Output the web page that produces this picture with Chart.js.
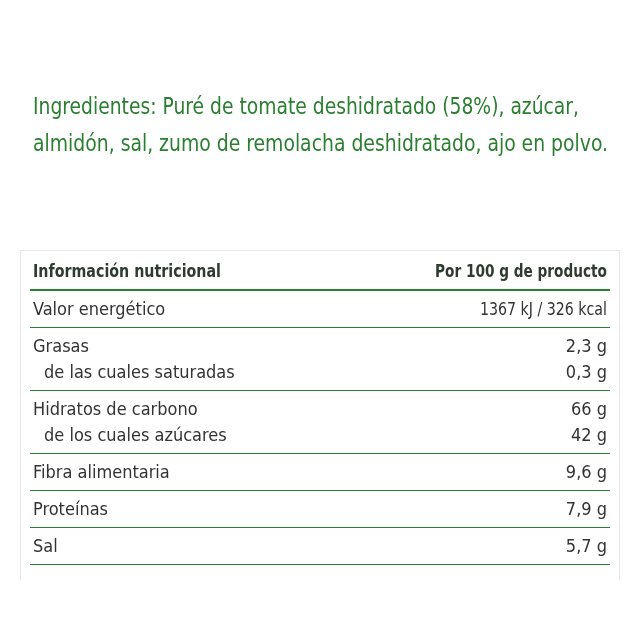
<!DOCTYPE html>
<html>
<head>
<meta charset="utf-8">
<script src="https://cdn.jsdelivr.net/npm/chart.js"></script>
<style>
  html, body { margin: 0; background: #fff; }
  #wrap { width: 640px; height: 640px; }
</style>
</head>
<body>
<div id="wrap"><canvas id="tbl"></canvas></div>
<script>
// DATA
const ingredientLines = [
  'Ingredientes: Puré de tomate deshidratado (58%), azúcar,',
  'almidón, sal, zumo de remolacha deshidratado, ajo en polvo.'
];
const headerLabels = ['Información nutricional', 'Por 100 g de producto'];
const rowLabels = ['Valor energético', 'Grasas', 'de las cuales saturadas', 'Hidratos de carbono',
  'de los cuales azúcares', 'Fibra alimentaria', 'Proteínas', 'Sal'];
const rowValues = ['1367 kJ / 326 kcal', '2,3 g', '0,3 g', '66 g', '42 g', '9,6 g', '7,9 g', '5,7 g'];
const rowIndent = [false, false, true, false, true, false, false, false];
const groupEnds = [true, false, true, false, true, true, true, true];

const FONT = '"DejaVu Sans Condensed", "Liberation Sans Narrow", sans-serif';
const GREEN = '#2a7f30';

// draw text, squeezing horizontally if wider than maxW
function fit(ctx, text, x, y, maxW, align) {
  const w = ctx.measureText(text).width;
  const s = w > maxW ? maxW / w : 1;
  ctx.save();
  ctx.translate(x, y);
  ctx.scale(s, 1);
  ctx.textAlign = align;
  ctx.fillText(text, 0, 0);
  ctx.restore();
}

const tablePlugin = {
  id: 'tablePlugin',
  afterDraw(chart) {
    const ctx = chart.ctx;
    ctx.save();
    ctx.textBaseline = 'middle';
    // ingredients
    ctx.fillStyle = GREEN;
    ctx.font = '23px ' + FONT;
    fit(ctx, ingredientLines[0], 33, 108, 546, 'left');
    fit(ctx, ingredientLines[1], 33, 145, 575, 'left');
    // frame
    ctx.strokeStyle = '#e8e8e8';
    ctx.lineWidth = 1;
    ctx.beginPath();
    ctx.moveTo(20, 250.5); ctx.lineTo(620, 250.5);
    ctx.moveTo(20.5, 250); ctx.lineTo(20.5, 580);
    ctx.moveTo(619.5, 250); ctx.lineTo(619.5, 580);
    ctx.stroke();
    // header
    ctx.fillStyle = '#2f3b2f';
    ctx.font = 'bold 18px ' + FONT;
    fit(ctx, headerLabels[0], 33, 272, 188, 'left');
    fit(ctx, headerLabels[1], 607, 272, 172, 'right');
    ctx.strokeStyle = GREEN;
    ctx.lineWidth = 2;
    ctx.beginPath(); ctx.moveTo(30, 290); ctx.lineTo(610, 290); ctx.stroke();
    // rows
    ctx.font = '18px ' + FONT;
    ctx.lineWidth = 1.2;
    let y = 310;
    rowLabels.forEach((lab, i) => {
      ctx.fillStyle = '#333';
      fit(ctx, lab, rowIndent[i] ? 44 : 33, y, 400, 'left');
      fit(ctx, rowValues[i], 607, y, 127, 'right');
      if (groupEnds[i]) {
        ctx.beginPath(); ctx.moveTo(30, y + 17.5); ctx.lineTo(610, y + 17.5); ctx.stroke();
        y += 37;
      } else {
        y += 26;
      }
    });
    ctx.restore();
  }
};

new Chart(document.getElementById('tbl'), {
  type: 'bar',
  data: { labels: [], datasets: [] },
  options: {
    responsive: true, maintainAspectRatio: false, animation: false,
    plugins: { legend: { display: false }, tooltip: { enabled: false } },
    scales: { x: { display: false }, y: { display: false } }
  },
  plugins: [tablePlugin]
});
</script>
</body>
</html>
